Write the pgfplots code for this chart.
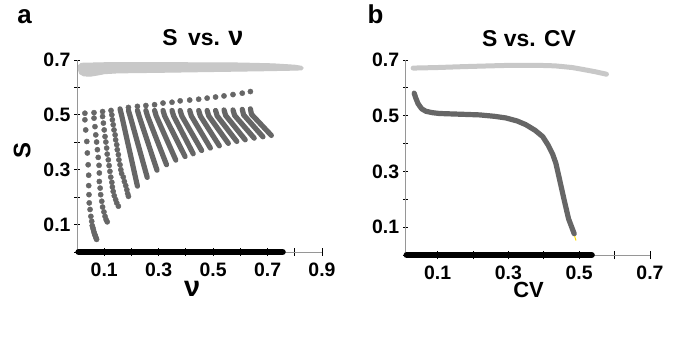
\documentclass[border=0pt]{standalone}
\usepackage{pgfplots}
\pgfplotsset{compat=1.18}
\usepackage{fontspec}
\setmainfont{Liberation Sans}
\definecolor{dgray}{RGB}{102,102,102}
\definecolor{lgray}{RGB}{200,200,200}
\definecolor{agray}{RGB}{150,150,150}
\pgfplotsset{
 panel/.style={
  scale only axis, anchor=south west, clip=false,
  axis x line=bottom, axis y line=left,
  every outer x axis line/.append style={-},
  every outer y axis line/.append style={-},
  axis line style={-, agray, line width=0.8bp},
  tick align=center, major tick length=8bp,
  every tick/.style={black, line width=0.8bp},
  ytick style={/pgfplots/major tick length=5bp},
  ymin=0, ymax=0.7,
  ytick={0,0.1,0.2,0.3,0.4,0.5,0.6,0.7},
  yticklabels={,0.1,,0.3,,0.5,,0.7},
  ticklabel style={font=\bfseries\fontsize{19.5}{19.5}\selectfont},
  xticklabel style={yshift=-3bp},
  yticklabel style={xshift=1bp},
  title style={font=\bfseries\fontsize{23}{23}\selectfont, anchor=center},
  xlabel style={font=\bfseries\fontsize{22}{22}\selectfont, anchor=center},
  ylabel style={font=\bfseries\fontsize{24}{24}\selectfont, anchor=center},
 },
 dots/.style={only marks, mark=*, mark size=2.6bp, dgray, mark options={draw=none, fill=dgray}},
 col/.style={dgray, line width=5.2bp, line cap=round, line join=round},
}
\begin{document}
\begin{tikzpicture}
\useasboundingbox (0,0) rectangle (692bp,341bp);
% ---------------- panel a ----------------
\begin{axis}[panel, at={(77bp,89bp)}, width=245bp, height=192bp,
  xmin=0, xmax=0.9,
  xtick={0.1,0.2,0.3,0.4,0.5,0.6,0.7,0.8,0.9},
  xticklabels={0.1,,0.3,,0.5,,0.7,,0.9},
  title={S\hspace{0.45em}vs. {\fontsize{27}{27}\selectfont ν}},
  title style={at={(axis description cs:0.514,1.083)}},
  xlabel={\fontsize{29}{29}\selectfont ν},
  xlabel style={at={(axis description cs:0.47,-0.19)}},
  ylabel={S},
  ylabel style={at={(axis description cs:-0.224,0.53)}},
]
% light gray band
\addplot[fill=lgray, draw=lgray, line width=1bp, line join=round] coordinates {
 (0.006,0.680) (0.015,0.688) (0.10,0.690) (0.40,0.690) (0.60,0.689) (0.72,0.686)
 (0.80,0.681) (0.825,0.677) (0.831,0.671) (0.825,0.664) (0.80,0.663) (0.70,0.661)
 (0.50,0.658) (0.30,0.655) (0.15,0.653) (0.10,0.650) (0.08,0.646) (0.05,0.641)
 (0.025,0.642) (0.01,0.650) (0.005,0.665)} -- cycle;
% black band at S = 0
\addplot[black, line width=6.5bp, line cap=round] coordinates {(0.006,0) (0.755,0)};
% sparse columns 1-4
\addplot[dots] coordinates {
 (0.029,0.506) (0.029,0.482) (0.032,0.445) (0.036,0.403) (0.038,0.361) (0.041,0.318)
 (0.043,0.280) (0.043,0.242) (0.044,0.209) (0.045,0.179) (0.048,0.155) (0.051,0.130)
 (0.054,0.112) (0.056,0.096) (0.058,0.089) (0.060,0.082) (0.062,0.074) (0.064,0.067)
 (0.066,0.062) (0.068,0.057) (0.070,0.051) (0.072,0.046)};
\addplot[dots] coordinates {
 (0.0625,0.508) (0.0625,0.488) (0.066,0.457) (0.069,0.427) (0.072,0.401) (0.075,0.373)
 (0.078,0.345) (0.081,0.316) (0.082,0.288) (0.082,0.257) (0.085,0.233) (0.087,0.209)
 (0.091,0.185) (0.094,0.164) (0.099,0.146) (0.103,0.130) (0.107,0.118) (0.111,0.110)};
\addplot[dots] coordinates {
 (0.094,0.512) (0.094,0.494) (0.097,0.470) (0.100,0.445) (0.103,0.421) (0.106,0.401)
 (0.109,0.379) (0.111,0.357) (0.115,0.336) (0.118,0.315) (0.121,0.294) (0.124,0.273)
 (0.128,0.254) (0.130,0.237) (0.133,0.221) (0.137,0.205) (0.142,0.191) (0.146,0.179)
 (0.152,0.167)};
\addplot[dots] coordinates {
 (0.125,0.516) (0.128,0.500) (0.130,0.482) (0.133,0.464) (0.136,0.445) (0.140,0.427)
 (0.142,0.409) (0.146,0.391) (0.148,0.373) (0.152,0.355) (0.154,0.336) (0.158,0.318)
 (0.161,0.300) (0.164,0.286) (0.170,0.273) (0.174,0.257) (0.179,0.242) (0.183,0.227)
 (0.186,0.213) (0.189,0.203)};
% upper row of separated top dots (columns 6-20)
\addplot[dots] coordinates {
 (0.189,0.527) (0.222,0.531) (0.253,0.534) (0.285,0.537) (0.316,0.543) (0.349,0.546)
 (0.379,0.551) (0.414,0.554) (0.447,0.557) (0.478,0.561) (0.509,0.565) (0.540,0.569)
 (0.573,0.574) (0.607,0.579) (0.637,0.585)};
% dense columns 5-20
\addplot[col] coordinates {(0.158,0.522) (0.164,0.498) (0.222,0.240)};
\addplot[col] coordinates {(0.189,0.516) (0.195,0.496) (0.258,0.272)};
\addplot[col] coordinates {(0.222,0.516) (0.228,0.496) (0.294,0.298)};
\addplot[col] coordinates {(0.253,0.516) (0.259,0.496) (0.329,0.318)};
\addplot[col] coordinates {(0.285,0.516) (0.291,0.496) (0.363,0.335)};
\addplot[col] coordinates {(0.316,0.516) (0.322,0.496) (0.397,0.348)};
\addplot[col] coordinates {(0.349,0.516) (0.355,0.496) (0.427,0.358)};
\addplot[col] coordinates {(0.379,0.516) (0.385,0.496) (0.458,0.370)};
\addplot[col] coordinates {(0.414,0.516) (0.420,0.496) (0.490,0.379)};
\addplot[col] coordinates {(0.447,0.516) (0.453,0.496) (0.523,0.387)};
\addplot[col] coordinates {(0.478,0.516) (0.484,0.496) (0.556,0.396)};
\addplot[col] coordinates {(0.509,0.516) (0.515,0.496) (0.587,0.403)};
\addplot[col] coordinates {(0.540,0.518) (0.546,0.498) (0.618,0.409)};
\addplot[col] coordinates {(0.573,0.518) (0.579,0.498) (0.651,0.415)};
\addplot[col] coordinates {(0.607,0.520) (0.612,0.500) (0.683,0.420)};
\addplot[col] coordinates {(0.637,0.522) (0.641,0.502) (0.714,0.425)};
\end{axis}
% ---------------- panel b ----------------
\begin{axis}[panel, at={(405.7bp,86bp)}, width=244.3bp, height=195bp,
  xmin=0.01, xmax=0.7,
  xtick={0.1,0.2,0.3,0.4,0.5,0.6,0.7},
  xticklabels={0.1,,0.3,,0.5,,0.7},
  title={S vs. CV},
  title style={at={(axis description cs:0.505,1.077)}},
  xlabel={CV},
  xlabel style={at={(axis description cs:0.503,-0.18)}},
]
\addplot[lgray, line width=5bp, line cap=round, line join=round] coordinates {
 (0.031,0.671) (0.10,0.673) (0.168,0.676) (0.25,0.679) (0.309,0.681) (0.38,0.681)
 (0.432,0.679) (0.48,0.673) (0.507,0.667) (0.545,0.658) (0.577,0.649)};
\addplot[black, line width=6.5bp, line cap=round] coordinates {(0.013,0) (0.535,0)};
\addplot[col] coordinates {
 (0.034,0.581) (0.038,0.565) (0.045,0.543) (0.055,0.525) (0.067,0.516) (0.085,0.511)
 (0.105,0.508) (0.15,0.506) (0.218,0.503) (0.26,0.498) (0.293,0.492) (0.325,0.481)
 (0.349,0.468) (0.375,0.448) (0.397,0.425) (0.412,0.395) (0.425,0.362) (0.434,0.330)
 (0.443,0.280) (0.458,0.195) (0.470,0.130) (0.486,0.076)};
\addplot[yellow!80!orange, line width=1bp] coordinates {(0.487,0.068) (0.491,0.052)};
\end{axis}
\node[font=\bfseries\fontsize{26}{26}\selectfont] at (24.5bp,324.5bp) {a};
\node[font=\bfseries\fontsize{26}{26}\selectfont] at (375.5bp,327bp) {b};
\end{tikzpicture}
\end{document}
